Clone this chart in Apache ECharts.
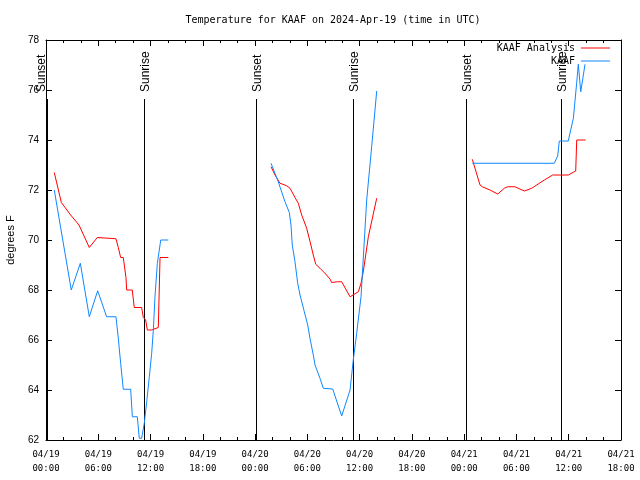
<!DOCTYPE html>
<html>
<head>
<meta charset="utf-8">
<script src="https://cdn.jsdelivr.net/npm/echarts@6/dist/echarts.min.js"></script>
<style>html,body{margin:0;padding:0;background:#fff;}#c{width:640px;height:480px;}</style>
</head>
<body>
<div id="c"></div>
<script>
// hours since 04/19 00:00 UTC, temperature in degrees F
const analysisDay1 = [[0.95,72.7],[1.76,71.5],[2.83,71.0],[3.79,70.6],[4.97,69.7],[5.89,70.1],[8.03,70.05],[8.3,69.7],[8.57,69.3],[8.87,69.3],[9.18,68.5],[9.26,68.0],[9.9,68.0],[10.13,67.3],[10.98,67.3],[11.17,66.9],[11.44,66.8],[11.63,66.4],[12.13,66.4],[12.89,66.5],[13.09,69.3],[14.04,69.3]];
const analysisDay2 = [[25.83,72.93],[26.29,72.6],[26.86,72.27],[27.63,72.17],[28.01,72.07],[28.58,71.7],[28.96,71.47],[29.35,71.0],[29.92,70.47],[30.3,69.95],[30.68,69.4],[30.96,69.03],[31.45,68.87],[32.02,68.67],[32.6,68.44],[32.79,68.3],[33.44,68.33],[33.94,68.33],[34.9,67.73],[35.85,67.93],[36.16,68.27],[36.42,68.73],[37.0,70.13],[37.96,71.67]];
const analysisDay3 = [[48.93,73.23],[49.82,72.2],[50.08,72.13],[50.96,72.0],[51.85,71.84],[52.61,72.07],[53.0,72.13],[53.83,72.13],[54.9,71.96],[55.75,72.07],[57.2,72.4],[58.16,72.6],[59.95,72.6],[60.8,72.76],[60.92,74.0],[61.95,74.0]];

const obsDay1 = [[0.95,72.0],[2.9,68.0],[3.94,69.07],[4.97,66.93],[5.93,67.97],[6.96,66.93],[8.03,66.93],[8.3,66.07],[8.57,65.07],[8.87,64.03],[9.72,64.03],[9.91,62.93],[10.48,62.93],[10.71,62.07],[10.98,62.07],[11.28,62.67],[11.56,63.53],[11.86,64.53],[12.13,65.47],[12.32,66.4],[12.51,67.73],[12.78,69.07],[13.17,70.0],[14.04,70.0]];
const obsDay2 = [[25.83,73.07],[26.66,72.33],[27.43,71.53],[27.93,71.1],[28.12,70.6],[28.27,69.8],[28.58,69.13],[28.89,68.27],[29.16,67.8],[29.65,67.13],[30.04,66.6],[30.3,66.07],[30.68,65.4],[30.88,65.0],[31.45,64.47],[31.83,64.07],[32.91,64.04],[33.94,62.96],[34.9,64.0],[35.27,65.2],[35.66,66.27],[36.16,67.73],[36.81,71.6],[37.38,73.73],[37.96,75.96]];
const obsDay3 = [[48.93,73.07],[58.35,73.07],[58.73,73.36],[58.92,73.96],[59.95,73.96],[60.53,74.87],[60.91,76.27],[61.1,77.03],[61.2,77.03],[61.38,75.93],[61.87,77.03],[61.95,77.03]];

const sunTimes = [0.1, 11.28, 24.1, 35.27, 48.17, 59.15];
const sunLabels = ['Sunset','Sunrise','Sunset','Sunrise','Sunset','Sunrise'];

const xTickLabels = ['04/19\n00:00','04/19\n06:00','04/19\n12:00','04/19\n18:00','04/20\n00:00','04/20\n06:00','04/20\n12:00','04/20\n18:00','04/21\n00:00','04/21\n06:00','04/21\n12:00','04/21\n18:00'];
const titleText = 'Temperature for KAAF on 2024-Apr-19 (time in UTC)';
const yName = 'degrees F';
const nameAnalysis = 'KAAF Analysis';
const nameObs = 'KAAF';

const RED = '#ff0000', BLUE = '#0f87ff';
const MONO = 'DejaVu Sans Mono';
const SANS = 'Liberation Sans';
const labelDx = [-6, 1, 1, 1, 1, 1];

const chart = echarts.init(document.getElementById('c'), null, {renderer:'canvas'});

function lineSeries(name, data, color){
  return {name, type:'line', data, showSymbol:false, symbol:'none', animation:false,
    lineStyle:{color, width:1}, itemStyle:{color}, z:3, clip:true};
}

const axisCommon = {
  axisLine:{show:true, onZero:false, lineStyle:{color:'#000', width:1}},
  splitLine:{show:false}
};

chart.setOption({
  animation:false,
  backgroundColor:'#fff',
  grid:{left:46, right:19, top:40, bottom:40, containLabel:false, outerBoundsMode:'none'},
  graphic:[{type:'text', x:333, y:20, style:{text:titleText, align:'center', verticalAlign:'middle', font:'10px "' + MONO + '"', fill:'#000'}}],
  legend:[
    {data:[{name:nameAnalysis, icon:'rect'}], right:30, top:43, orient:'vertical', align:'right', itemWidth:29, itemHeight:1, itemGap:0, padding:0,
     textStyle:{fontFamily:MONO, fontSize:10, color:'#000', padding:[0,1,0,0]}},
    {data:[{name:nameObs, icon:'rect'}], right:30, top:56, orient:'vertical', align:'right', itemWidth:29, itemHeight:1, itemGap:0, padding:0,
     textStyle:{fontFamily:MONO, fontSize:10, color:'#000', padding:[0,1,0,0]}}
  ],
  xAxis:[
    Object.assign({type:'value', min:0, max:66, interval:6, position:'bottom',
      axisTick:{show:true, inside:true, length:6, lineStyle:{color:'#000'}},
      minorTick:{show:true, splitNumber:3, length:3, lineStyle:{color:'#000'}},
      axisLabel:{show:true, margin:8, fontFamily:MONO, fontSize:9, lineHeight:14, color:'#000',
        formatter:v=>xTickLabels[Math.round(v/6)]}}, axisCommon),
    Object.assign({type:'value', min:0, max:66, interval:6, position:'top',
      axisTick:{show:true, inside:true, length:6, lineStyle:{color:'#000'}},
      minorTick:{show:true, splitNumber:3, length:3, lineStyle:{color:'#000'}},
      axisLabel:{show:false}}, axisCommon)
  ],
  yAxis:[
    Object.assign({type:'value', min:62, max:78, interval:2, position:'left',
      name:yName, nameLocation:'middle', nameRotate:90, nameGap:30,
      nameTextStyle:{fontFamily:SANS, fontSize:11, color:'#000'},
      axisTick:{show:true, inside:true, length:6, lineStyle:{color:'#000'}},
      axisLabel:{show:true, margin:7, fontFamily:SANS, fontSize:10, color:'#000'}}, axisCommon),
    Object.assign({type:'value', min:62, max:78, interval:2, position:'right',
      axisTick:{show:true, inside:true, length:6, lineStyle:{color:'#000'}},
      axisLabel:{show:false}}, axisCommon)
  ],
  series:[
    {type:'custom', name:'sun', data:sunTimes.map(t=>[t,62]), silent:true, clip:false, z:2,
      renderItem:function(params, api){
        const i = params.dataIndex;
        const t = api.value(0);
        const pBot = api.coord([t,62]);
        const pTop = api.coord([t,78]);
        const x = Math.round(pBot[0]) + 0.5;
        return {type:'group', children:[
          {type:'line', shape:{x1:x, y1:pTop[1]+59, x2:x, y2:pBot[1]}, style:{stroke:'#000', lineWidth:1}},
          {type:'text', x:x+labelDx[i], y:pTop[1]+52, rotation:Math.PI/2,
            style:{text:sunLabels[i], align:'left', verticalAlign:'middle', font:'12px "' + SANS + '"', fill:'#000'}}
        ]};
      }},
    lineSeries(nameAnalysis, analysisDay1, RED),
    lineSeries(nameAnalysis, analysisDay2, RED),
    lineSeries(nameAnalysis, analysisDay3, RED),
    lineSeries(nameObs, obsDay1, BLUE),
    lineSeries(nameObs, obsDay2, BLUE),
    lineSeries(nameObs, obsDay3, BLUE)
  ]
});
</script>
</body>
</html>
